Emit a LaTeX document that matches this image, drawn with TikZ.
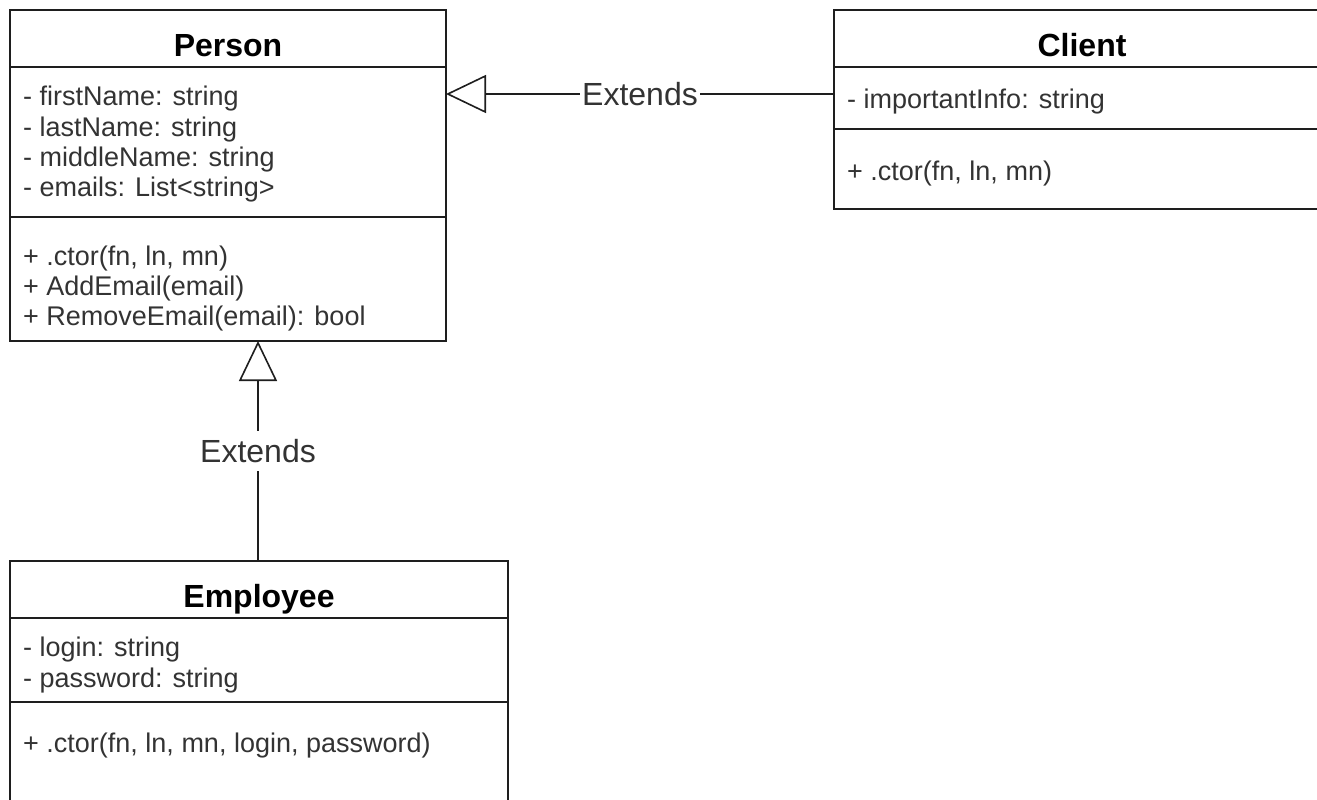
\documentclass[tikz,border=0pt]{standalone}
\usepackage{fontspec}
\setmainfont{Liberation Sans}
\usetikzlibrary{arrows.meta}
\definecolor{ln}{HTML}{1E1E1E}
\definecolor{tx}{HTML}{333333}
\begin{document}
\begin{tikzpicture}[x=1pt,y=-1pt,
 box/.style={draw=ln, line width=1.6pt, fill=white, inner sep=0pt, outer sep=0pt},
 divider/.style={draw=ln, line width=1.6pt},
 title/.style={font=\bfseries\fontsize{32}{36}\selectfont, text=black, anchor=base, inner sep=0pt},
 attr/.style={font=\fontsize{27}{30}\selectfont, text=tx, anchor=base west, inner sep=0pt},
 lbl/.style={font=\fontsize{32}{36}\selectfont, text=tx, fill=white, inner xsep=2pt, inner ysep=8pt},
 ext/.style={draw=ln, line width=1.6pt, -{Triangle[open, length=40pt, width=38pt, fill=white]}}
]
\clip (0,0) rectangle (1317,800);
\fill[white] (0,0) rectangle (1317,800);

% Person
\node[box, minimum width=436pt, minimum height=331pt] (person) at (228,175.5) {};
\draw[divider] (10,67) -- (446,67);
\draw[divider] (10,217) -- (446,217);
\node[title] (ptitle) at (228,57) {Person};
\node[attr] (pa1) at (23,106) {- firstName: string};
\node[attr] (pa2) at (23,136) {- lastName: string};
\node[attr] (pa3) at (23,166) {- middleName: string};
\node[attr] (pa4) at (23,196) {- emails: List<string>};
\node[attr] (pm1) at (23,265) {+ .ctor(fn, ln, mn)};
\node[attr] (pm2) at (23,295) {+ AddEmail(email)};
\node[attr] (pm3) at (23,325) {+ RemoveEmail(email): bool};

% Client
\node[box, minimum width=496pt, minimum height=199pt] (client) at (1082,109.5) {};
\draw[divider] (834,67) -- (1330,67);
\draw[divider] (834,129) -- (1330,129);
\node[title] (ctitle) at (1082,57) {Client};
\node[attr] (ca1) at (847,108) {- importantInfo: string};
\node[attr] (cm1) at (847,180) {+ .ctor(fn, ln, mn)};

% Employee
\node[box, minimum width=498pt, minimum height=290pt] (employee) at (259,706) {};
\draw[divider] (10,618) -- (508,618);
\draw[divider] (10,702) -- (508,702);
\node[title] (etitle) at (259,607) {Employee};
\node[attr] (ea1) at (23,656) {- login: string};
\node[attr] (ea2) at (23,687) {- password: string};
\node[attr] (em1) at (23,752) {+ .ctor(fn, ln, mn, login, password)};

% Connectors
\coordinate (cw) at ([yshift=15.5pt]client.west);
\coordinate (et) at ([xshift=-1pt]employee.north);
\draw[ext] (cw) -- node[lbl] (l1) {Extends} (person.east |- cw);
\draw[ext] (et) -- node[lbl] (l2) {Extends} (et |- person.south);
\end{tikzpicture}
\end{document}
